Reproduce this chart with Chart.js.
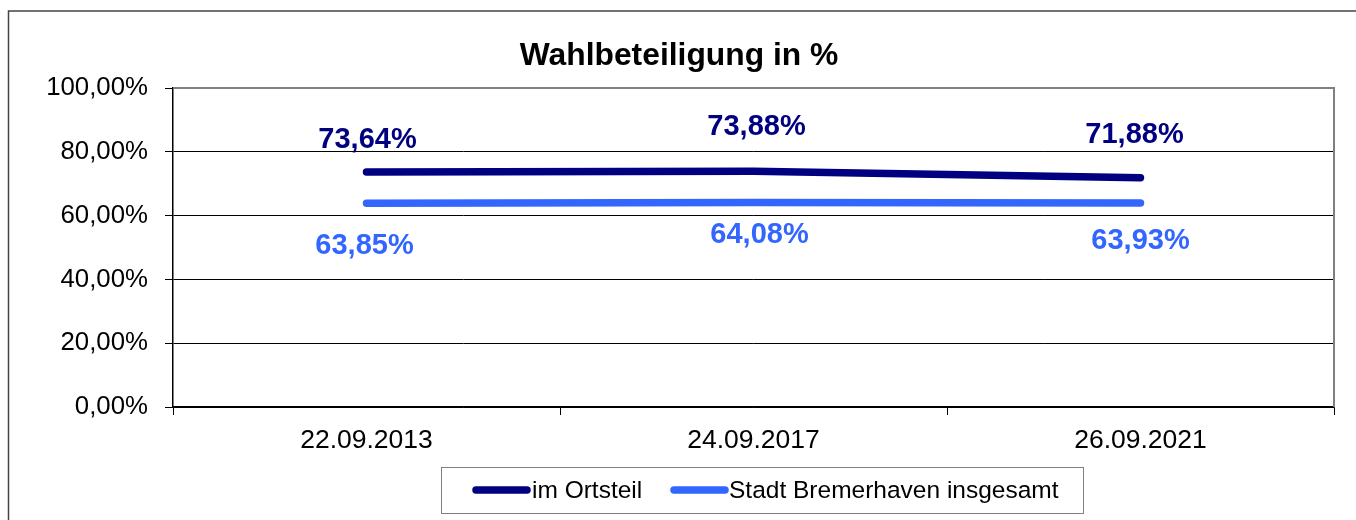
<!DOCTYPE html>
<html>
<head>
<meta charset="utf-8">
<script src="https://cdn.jsdelivr.net/npm/chart.js@4.4.1/dist/chart.umd.min.js"></script>
<style>
html,body{margin:0;padding:0;background:#fff;}
#wrap{position:relative;width:1356px;height:520px;overflow:hidden;}
canvas{display:block;}
</style>
</head>
<body>
<div id="wrap"><canvas id="c" width="1356" height="520"></canvas></div>
<script>
// ---- data ----
const categories = ['22.09.2013', '24.09.2017', '26.09.2021'];
const ortsteil = [73.64, 73.88, 71.88];
const bremerhaven = [63.85, 64.08, 63.93];
const yTicks = [0, 20, 40, 60, 80, 100];
const seriesNames = ['im Ortsteil', 'Stadt Bremerhaven insgesamt'];
const titleText = 'Wahlbeteiligung in %';

// label offsets (pixels, relative to the point) – styling only
const labelOffsets = [
  [[1, -24], [3, -36], [-6, -35]],
  [[-2, 51], [6, 40], [0, 46]]
];

const FONT = '"Liberation Sans", Arial, Helvetica, sans-serif';
const NAVY = '#000080';
const BLUE = '#3366FF';

const fmt = v => v.toFixed(2).replace('.', ',') + '%';

const decor = {
  id: 'decor',
  beforeDraw(chart) {
    const ctx = chart.ctx;
    ctx.save();
    ctx.fillStyle = '#fff';
    ctx.fillRect(0, 0, chart.width, chart.height);
    // outer frame
    ctx.strokeStyle = '#444';
    ctx.lineWidth = 1.5;
    ctx.beginPath();
    ctx.moveTo(8.5, 530);
    ctx.lineTo(8.5, 11);
    ctx.lineTo(1360, 11);
    ctx.stroke();
    ctx.restore();
  },
  afterDatasetsDraw(chart) {
    const ctx = chart.ctx;
    const a = chart.chartArea;
    ctx.save();
    // plot border top & right (grey)
    ctx.strokeStyle = '#808080';
    ctx.lineWidth = 2;
    ctx.beginPath();
    ctx.moveTo(a.left, a.top);
    ctx.lineTo(a.right, a.top);
    ctx.lineTo(a.right, a.bottom);
    ctx.stroke();

    // data labels
    ctx.font = 'bold 29px ' + FONT;
    ctx.textAlign = 'center';
    ctx.textBaseline = 'alphabetic';
    chart.data.datasets.forEach((ds, di) => {
      const meta = chart.getDatasetMeta(di);
      ctx.fillStyle = ds.borderColor;
      meta.data.forEach((pt, i) => {
        const off = labelOffsets[di][i];
        ctx.fillText(fmt(ds.data[i]), pt.x + off[0], pt.y + off[1]);
      });
    });

    // title
    ctx.fillStyle = '#000';
    ctx.font = 'bold 31.8px ' + FONT;
    ctx.fillText(titleText, 679, 65);

    // legend
    ctx.strokeStyle = '#808080';
    ctx.lineWidth = 1;
    ctx.strokeRect(441.5, 467.5, 642, 46);
    const items = [
      {x1: 476, x2: 527, tx: 532, color: NAVY},
      {x1: 674, x2: 725, tx: 729, color: BLUE}
    ];
    ctx.font = '24.5px ' + FONT;
    ctx.textAlign = 'left';
    ctx.textBaseline = 'middle';
    items.forEach((it, i) => {
      ctx.strokeStyle = it.color;
      ctx.lineWidth = 7.5;
      ctx.lineCap = 'round';
      ctx.beginPath();
      ctx.moveTo(it.x1, 490);
      ctx.lineTo(it.x2, 490);
      ctx.stroke();
      ctx.fillStyle = '#000';
      ctx.fillText(seriesNames[i], it.tx, 491);
    });
    ctx.restore();
  }
};

new Chart(document.getElementById('c'), {
  type: 'line',
  data: {
    labels: categories,
    datasets: [
      {label: seriesNames[0], data: ortsteil, borderColor: NAVY, backgroundColor: NAVY,
       borderWidth: 7.5, borderCapStyle: 'round', borderJoinStyle: 'round', pointRadius: 0, tension: 0, fill: false},
      {label: seriesNames[1], data: bremerhaven, borderColor: BLUE, backgroundColor: BLUE,
       borderWidth: 7.5, borderCapStyle: 'round', borderJoinStyle: 'round', pointRadius: 0, tension: 0, fill: false}
    ]
  },
  options: {
    responsive: false,
    devicePixelRatio: 1,
    animation: false,
    layout: {padding: {left: 0, top: 88, right: 22, bottom: 0}},
    plugins: {legend: {display: false}, title: {display: false}, tooltip: {enabled: false}},
    scales: {
      x: {
        type: 'category',
        offset: true,
        afterFit(s) { s.height = 113; },
        grid: {display: true, drawOnChartArea: false, offset: true, drawTicks: true, tickLength: 8, color: '#000', lineWidth: 1},
        border: {display: true, color: '#000', width: 1.5},
        ticks: {color: '#000', font: {family: FONT, size: 26.5}, padding: 10, maxRotation: 0, autoSkip: false}
      },
      y: {
        min: 0, max: 100,
        afterFit(s) { s.width = 173; },
        afterBuildTicks(s) { s.ticks = yTicks.map(v => ({value: v})); },
        grid: {
          color: c => (c.tick && c.tick.value === 100) ? 'rgba(0,0,0,0)' : '#000',
          lineWidth: 1, drawTicks: true, tickLength: 8, tickColor: '#000'
        },
        border: {display: true, color: '#000', width: 1.5},
        ticks: {color: '#000', font: {family: FONT, size: 25.8}, padding: 17, callback: v => fmt(v)}
      }
    }
  },
  plugins: [decor]
});
</script>
</body>
</html>
